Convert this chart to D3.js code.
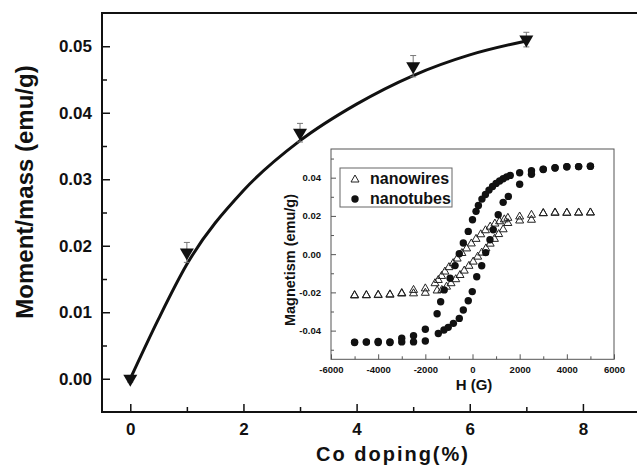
<!DOCTYPE html>
<html>
<head>
<meta charset="utf-8">
<script src="https://cdn.jsdelivr.net/npm/d3@7"></script>
<style>
  body { margin: 0; background: #ffffff; }
  text { font-family: "Liberation Sans", Arial, sans-serif; font-weight: bold; fill: #111; }
</style>
</head>
<body>
<div id="chart"></div>
<script>
// main plot: moment vs Co doping
const dopingLevels = [0, 1, 3, 5, 7];
const momentValues = [0.0000, 0.0190, 0.0370, 0.0470, 0.0510];
const momentErrors = [0.0005, 0.0015, 0.0014, 0.0016, 0.0011];

// fitted curve
const fitDoping = [0, 0.5, 1, 2, 3, 4, 5, 6, 7];
const fitMoment = [0.0000, 0.0090, 0.0172, 0.0283, 0.0358, 0.0413, 0.0456, 0.0487, 0.0508];

const xMajorTicks = [0, 2, 4, 6, 8];
const xMinorTicks = [1, 3, 5, 7];
const yMajorTicks = [0.00, 0.01, 0.02, 0.03, 0.04, 0.05];
const yMinorTicks = [0.005, 0.015, 0.025, 0.035, 0.045];

// inset: hysteresis loops (H in G, M in emu/g)
const wireDownH = [5000, 4500, 4000, 3500, 3000, 2500, 2000, 1500, 1350, 1150, 950, 750, 550, 350, 150, -50, -250, -450, -650, -820, -1000, -1170, -1310, -1450, -1590, -2000, -2500, -3000, -3500, -4000, -4500, -5000];
const wireDownM = [0.0218, 0.0218, 0.0217, 0.0218, 0.0215, 0.0206, 0.0197, 0.0190, 0.0182, 0.0172, 0.0160, 0.0144, 0.0125, 0.0104, 0.0080, 0.0056, 0.0030, 0.0006, -0.0023, -0.0047, -0.0068, -0.0091, -0.0114, -0.0135, -0.0152, -0.0179, -0.0187, -0.0203, -0.0210, -0.0212, -0.0214, -0.0214];
const wireUpH = [-5000, -4500, -4000, -3500, -3000, -2500, -2000, -1500, -1300, -1100, -910, -710, -530, -350, -150, 30, 220, 390, 570, 750, 930, 1110, 1300, 1500, 2000, 2500, 3000, 3500, 4000, 4500, 5000];
const wireUpM = [-0.0216, -0.0215, -0.0214, -0.0212, -0.0206, -0.0205, -0.0202, -0.0190, -0.0187, -0.0170, -0.0152, -0.0131, -0.0109, -0.0086, -0.0061, -0.0039, -0.0013, 0.0008, 0.0030, 0.0055, 0.0080, 0.0105, 0.0130, 0.0163, 0.0176, 0.0180, 0.0214, 0.0216, 0.0216, 0.0217, 0.0218];

const tubeDownH = [5000, 4500, 4000, 3500, 3000, 2500, 2000, 1600, 1450, 1300, 1150, 1000, 850, 700, 550, 400, 250, 150, 0, -180, -390, -560, -740, -950, -1200, -1350, -1500, -2000, -2500, -3000, -3500, -4000, -4500, -5000];
const tubeDownM = [0.0460, 0.0458, 0.0457, 0.0452, 0.0444, 0.0436, 0.0426, 0.0412, 0.0404, 0.0394, 0.0383, 0.0370, 0.0354, 0.0335, 0.0312, 0.0288, 0.0255, 0.0224, 0.0180, 0.0119, 0.0058, 0.0002, -0.0060, -0.0126, -0.0187, -0.0249, -0.0312, -0.0393, -0.0427, -0.0440, -0.0459, -0.0457, -0.0459, -0.0460];
const tubeUpH = [-5000, -4500, -4000, -3500, -3000, -2500, -2000, -1450, -1210, -1030, -810, -560, -390, -180, -10, 180, 390, 560, 740, 880, 1090, 1300, 1520, 2000, 2500, 3000, 3500, 4000, 4500, 5000];
const tubeUpM = [-0.0462, -0.0460, -0.0462, -0.0462, -0.0459, -0.0459, -0.0454, -0.0415, -0.0397, -0.0383, -0.0362, -0.0336, -0.0292, -0.0244, -0.0196, -0.0118, -0.0061, 0.0008, 0.0075, 0.0128, 0.0206, 0.0271, 0.0302, 0.0366, 0.0418, 0.0443, 0.0451, 0.0457, 0.0458, 0.0460];

const hMajorTicks = [-6000, -4000, -2000, 0, 2000, 4000, 6000];
const hMinorTicks = [-5000, -3000, -1000, 1000, 3000, 5000];
const mMajorTicks = [-0.04, -0.02, 0.00, 0.02, 0.04];
const mMinorTicks = [-0.05, -0.03, -0.01, 0.01, 0.03, 0.05];
const legendNames = ["nanowires", "nanotubes"];

const width = 637;
const height = 470;

// plain hyphen for negatives, like the original
const fmt2 = v => d3.format(".2f")(v).replace("\u2212", "-");
const fmtInt = v => d3.format("d")(v).replace("\u2212", "-");

const svg = d3.select("#chart")
    .append("svg")
    .attr("width", width)
    .attr("height", height);

svg.append("rect").attr("width", width).attr("height", height).attr("fill", "#fff");

// Scales for the main plot
const x = d3.scaleLinear().domain([-0.5, 9]).range([102, 639.5]);
const y = d3.scaleLinear().domain([-0.005, 0.055]).range([412, 13]);

// minor ticks first
svg.append("g")
    .attr("transform", "translate(102,0)")
    .call(d3.axisLeft(y).tickValues(yMinorTicks).tickSize(-5).tickFormat(""))
    .call(g => g.select(".domain").remove());
svg.append("g")
    .attr("transform", "translate(0,412)")
    .call(d3.axisBottom(x).tickValues(xMinorTicks).tickSize(-5).tickFormat(""))
    .call(g => g.select(".domain").remove());

const yAxis = svg.append("g")
    .attr("transform", "translate(102,0)")
    .call(d3.axisLeft(y).tickValues(yMajorTicks).tickSize(-8).tickPadding(10).tickFormat(fmt2));
yAxis.select(".domain").remove();
yAxis.selectAll("text").style("font-size", "17px").attr("fill", "#111");

const xAxis = svg.append("g")
    .attr("transform", "translate(0,412)")
    .call(d3.axisBottom(x).tickValues(xMajorTicks).tickSize(-8).tickPadding(11).tickFormat(fmtInt));
xAxis.select(".domain").remove();
xAxis.selectAll("text").style("font-size", "17px").attr("fill", "#111");

svg.selectAll(".tick line").attr("stroke", "#111").attr("stroke-width", 1.5);

// frame (right side falls off the picture)
svg.append("rect")
    .attr("x", 102).attr("y", 13)
    .attr("width", 545).attr("height", 399)
    .attr("fill", "none")
    .attr("stroke", "#111")
    .attr("stroke-width", 2);

// fitted curve
const fitLine = d3.line()
    .x((d, i) => x(fitDoping[i]))
    .y(d => y(d))
    .curve(d3.curveMonotoneX);

svg.append("path")
    .datum(fitMoment)
    .attr("d", fitLine)
    .attr("fill", "none")
    .attr("stroke", "#111")
    .attr("stroke-width", 3);

// error bars
const errs = svg.append("g").attr("stroke", "#777").attr("stroke-width", 1);
dopingLevels.forEach((d, i) => {
    const cx = x(d);
    const top = y(momentValues[i] + momentErrors[i]);
    const bot = y(momentValues[i] - momentErrors[i]);
    errs.append("line").attr("x1", cx).attr("x2", cx).attr("y1", top).attr("y2", bot);
    errs.append("line").attr("x1", cx - 3).attr("x2", cx + 3).attr("y1", top).attr("y2", top);
    errs.append("line").attr("x1", cx - 3).attr("x2", cx + 3).attr("y1", bot).attr("y2", bot);
});

// down triangles
svg.selectAll(".pt")
    .data(dopingLevels)
    .enter()
    .append("path")
    .attr("class", "pt")
    .attr("d", (d, i) => {
        const cx = x(d), cy = y(momentValues[i]);
        return `M${cx - 7},${cy - 4}L${cx + 7},${cy - 4}L${cx},${cy + 8}Z`;
    })
    .attr("fill", "#111");

// axis titles
svg.append("text")
    .attr("transform", "rotate(-90)")
    .attr("x", -192)
    .attr("y", 33)
    .attr("text-anchor", "middle")
    .style("font-size", "24px")
    .text("Moment/mass (emu/g)");

svg.append("text")
    .attr("x", 393)
    .attr("y", 461)
    .attr("text-anchor", "middle")
    .style("font-size", "20px")
    .style("letter-spacing", "2px")
    .text("Co doping(%)");

// ---- inset ----
const ix = d3.scaleLinear().domain([-6000, 6000]).range([331, 614]);
const iy = d3.scaleLinear().domain([-0.055, 0.055]).range([359.3, 149]);

const inset = svg.append("g");

inset.append("rect")
    .attr("x", 331).attr("y", 149)
    .attr("width", 283).attr("height", 210.3)
    .attr("fill", "#fff")
    .attr("stroke", "#555")
    .attr("stroke-width", 1);

inset.append("g")
    .attr("transform", "translate(331,0)")
    .call(d3.axisLeft(iy).tickValues(mMinorTicks).tickSize(-3).tickFormat(""))
    .call(g => g.select(".domain").remove());
inset.append("g")
    .attr("transform", "translate(0,359.3)")
    .call(d3.axisBottom(ix).tickValues(hMinorTicks).tickSize(-3).tickFormat(""))
    .call(g => g.select(".domain").remove());

const iyAxis = inset.append("g")
    .attr("transform", "translate(331,0)")
    .call(d3.axisLeft(iy).tickValues(mMajorTicks).tickSize(-5).tickPadding(10).tickFormat(fmt2));
iyAxis.select(".domain").remove();
iyAxis.selectAll("text").style("font-size", "9.5px").attr("fill", "#222");

const ixAxis = inset.append("g")
    .attr("transform", "translate(0,359.3)")
    .call(d3.axisBottom(ix).tickValues(hMajorTicks).tickSize(-5).tickPadding(7).tickFormat(fmtInt));
ixAxis.select(".domain").remove();
ixAxis.selectAll("text").style("font-size", "9.5px").attr("fill", "#222");

inset.selectAll(".tick line").attr("stroke", "#555");

function triPath(cx, cy) {
    return `M${cx - 4},${cy + 2.5}L${cx + 4},${cy + 2.5}L${cx},${cy - 4.5}Z`;
}

// nanowires, open triangles
const wires = inset.append("g");
[[wireDownH, wireDownM], [wireUpH, wireUpM]].forEach(([hs, ms]) => {
    wires.selectAll(null)
        .data(hs)
        .enter()
        .append("path")
        .attr("d", (h, i) => triPath(ix(h), iy(ms[i])))
        .attr("fill", "none")
        .attr("stroke", "#222")
        .attr("stroke-width", 1);
});

// nanotubes, filled dots
const tubes = inset.append("g");
[[tubeDownH, tubeDownM], [tubeUpH, tubeUpM]].forEach(([hs, ms]) => {
    tubes.selectAll(null)
        .data(hs)
        .enter()
        .append("circle")
        .attr("cx", h => ix(h))
        .attr("cy", (h, i) => iy(ms[i]))
        .attr("r", 3.7)
        .attr("fill", "#111");
});

// inset titles
inset.append("text")
    .attr("x", 474)
    .attr("y", 390)
    .attr("text-anchor", "middle")
    .style("font-size", "15px")
    .text("H (G)");

inset.append("text")
    .attr("transform", "rotate(-90)")
    .attr("x", -260)
    .attr("y", 295)
    .attr("text-anchor", "middle")
    .style("font-size", "14.5px")
    .text("Magnetism (emu/g)");

// legend
const legend = inset.append("g");
legend.append("rect")
    .attr("x", 340).attr("y", 168)
    .attr("width", 112).attr("height", 39)
    .attr("fill", "#fff")
    .attr("stroke", "#666")
    .attr("stroke-width", 1);

legend.append("path")
    .attr("d", triPath(355, 179.5))
    .attr("fill", "none")
    .attr("stroke", "#222");
legend.append("circle")
    .attr("cx", 355).attr("cy", 199)
    .attr("r", 3.7)
    .attr("fill", "#111");

legend.selectAll(".lt")
    .data(legendNames)
    .enter()
    .append("text")
    .attr("class", "lt")
    .attr("x", 370)
    .attr("y", (d, i) => 184 + i * 20)
    .style("font-size", "16px")
    .text(d => d);
</script>
</body>
</html>
